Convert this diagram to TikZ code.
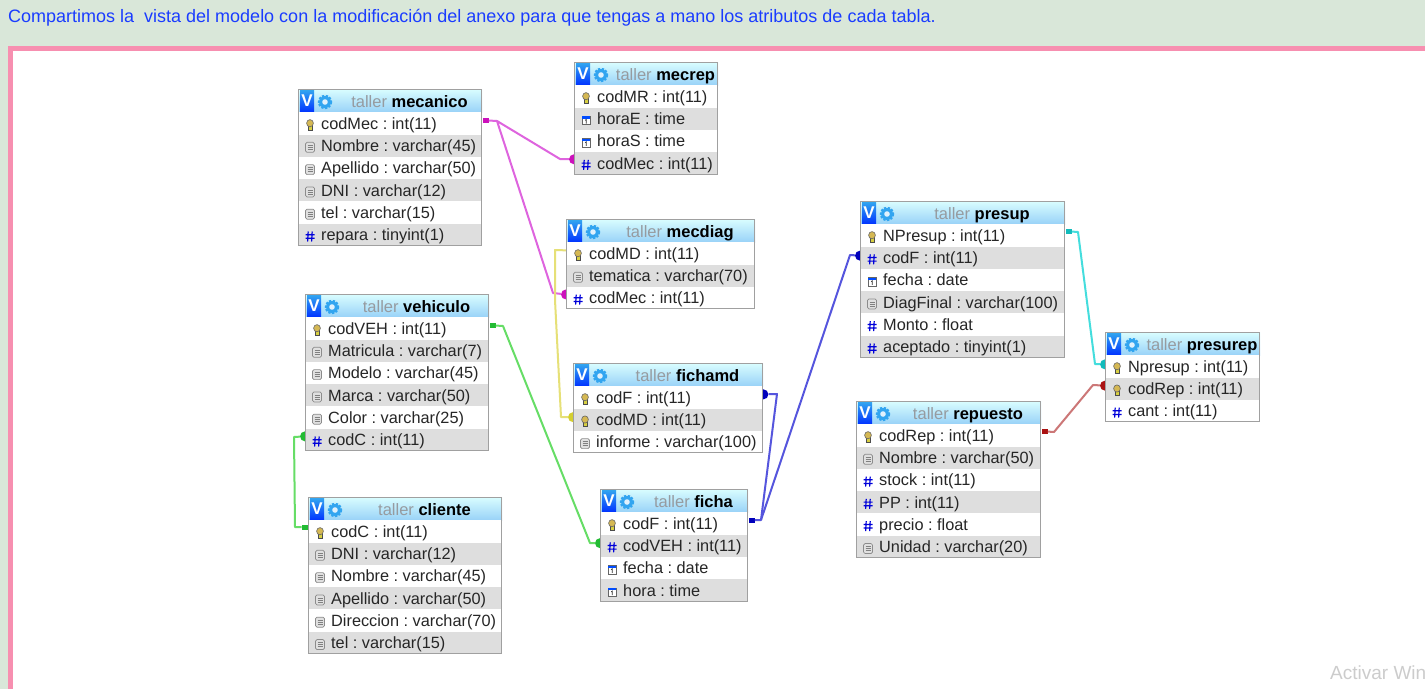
\documentclass[tikz,border=0pt]{standalone}
\usepackage{fontspec}
\setmainfont{Liberation Sans}
\usetikzlibrary{backgrounds}
\definecolor{PageGreen}{RGB}{217,231,217}
\definecolor{PagePink}{RGB}{247,143,176}
\definecolor{NoteBlue}{RGB}{26,60,255}
\definecolor{RowGrey}{RGB}{222,222,222}
\definecolor{FrameGrey}{RGB}{160,160,160}
\definecolor{TitleGrey}{RGB}{150,155,160}
\definecolor{GearBlue}{RGB}{50,165,240}
\definecolor{MagLine}{RGB}{222,100,222}
\definecolor{MagTip}{RGB}{204,17,187}
\definecolor{YelLine}{RGB}{230,224,119}
\definecolor{YelTip}{RGB}{212,207,48}
\definecolor{GrnLine}{RGB}{102,221,102}
\definecolor{GrnTip}{RGB}{34,187,51}
\definecolor{BluLine}{RGB}{85,85,221}
\definecolor{BluTip}{RGB}{0,0,187}
\definecolor{CyaLine}{RGB}{68,221,221}
\definecolor{CyaTip}{RGB}{17,187,187}
\definecolor{RedLine}{RGB}{204,119,119}
\definecolor{RedTip}{RGB}{170,17,17}
% one table: id, x, y, width, title, number of rows, rows
\newcommand{\erdtable}[7]{
    \node[headbar,minimum width=#4pt] (#1) at (#2,#3) {};
    \node[vbox] (#1-v) at (#2+9,#3+12) {V};
    \pic at (#2+27,#3+13) {gearicon};
    \node[headtext] (#1-title) at ({#2+39+(#4-39)/2},#3+18) {\textcolor{TitleGrey}{taller} \textbf{#5}};
    \foreach \k/\txt [count=\n] in {#7} {
        \ifodd\n\def\rowfill{white}\else\def\rowfill{RowGrey}\fi
        \node[rowbar,fill=\rowfill,minimum width=#4pt] (#1-\n) at (#2,{#3+23+(\n-1)*22.3}) {};
        \node[rowtext] (#1-\n-t) at (#2+23,{#3+23+(\n-1)*22.3+17.3}) {\txt};
        \csname icon\k\endcsname{#2+12,{#3+23+(\n-1)*22.3+13}}
    }
    \draw[tableframe] (#2+0.5,#3+0.5) rectangle ({#2+#4-0.5},{#3+23+#6*22.3});
}
\newcommand{\iconk}[1]{\pic at (#1) {keyicon};}
\newcommand{\icond}[1]{\pic at (#1) {docicon};}
\newcommand{\iconh}[1]{\pic at (#1) {hashicon};}
\newcommand{\iconc}[1]{\pic at (#1) {calicon};}
\begin{document}
\frenchspacing
\begin{tikzpicture}[
    x=1pt,y=-1pt,
    headbar/.style={rectangle,anchor=north west,minimum height=23pt,inner sep=0pt,top color=blue!5!cyan!15,bottom color=GearBlue!50},
    vbox/.style={rectangle,minimum width=14pt,minimum height=22pt,inner sep=0pt,top color=GearBlue,bottom color=blue!80!cyan,text=white,font=\fontsize{17}{17}\selectfont\bfseries},
    headtext/.style={anchor=base,inner sep=0pt,font=\fontsize{16.5}{18}\selectfont},
    rowbar/.style={rectangle,anchor=north west,minimum height=22.3pt,inner sep=0pt},
    rowtext/.style={anchor=base west,inner sep=0pt,text=black!85,font=\fontsize{16.3}{18}\selectfont},
    tableframe/.style={FrameGrey,line width=0.9pt},
    rel/.style={#1,line width=2pt,line join=round},
    tipdot/.style={circle,fill=#1,minimum size=10pt,inner sep=0pt},
    tipstub/.style={rectangle,fill=#1,minimum width=6pt,minimum height=4.5pt,inner sep=0pt,anchor=west},
    keyicon/.pic={
        \fill[olive!50!yellow!70,draw=black!70,line width=0.6pt] (-2.2,0) rectangle (2.2,5.2);
        \fill[olive!60!orange!60,draw=black!60,line width=0.6pt] (0,-1.8) ellipse (3.4 and 3.6);
    },
    docicon/.pic={
        \draw[black!45,fill=black!12,rounded corners=1.5pt,line width=0.7pt] (-4.5,-5) rectangle (4.5,5);
        \foreach \l in {-2,0,2} { \draw[black!50,line width=0.6pt] (-2.5,\l) -- (2.5,\l); }
    },
    hashicon/.pic={
        \draw[blue!85!black,line width=1.2pt] (-1.8,-5) -- (-2.4,5) (2.2,-5) -- (1.6,5) (-4.5,-1.8) -- (4.5,-1.8) (-4.5,1.8) -- (4.5,1.8);
    },
    calicon/.pic={
        \draw[black!60,fill=white,line width=0.7pt] (-4,-4) rectangle (4,4.5);
        \fill[blue!70!cyan] (-4,-4) rectangle (4,-1.8);
        \draw[black!80,line width=0.8pt] (-0.8,0) -- (0.3,-0.8) -- (0.3,3.2);
    },
    gearicon/.pic={
        \draw[GearBlue,line width=2.4pt,dash pattern=on 2.2pt off 1.4pt] (0,0) circle (6);
        \fill[GearBlue] (0,0) circle (6);
        \fill[white!85!GearBlue] (0,0) circle (2.8);
    }
]
    \useasboundingbox (0,0) rectangle (1425,689);
    % Page
    \begin{pgfonlayer}{background}
        \fill[PageGreen] (0,0) rectangle (1425,689);
        \fill[PagePink] (8,46) rectangle (1425,689);
        \fill[white] (13,51) rectangle (1425,689);
    \end{pgfonlayer}
    \node[anchor=base west,inner sep=0pt,text=NoteBlue,font=\fontsize{18}{20}\selectfont] (note) at (8,22) {Compartimos la\ \ vista del modelo con la modificación del anexo para que tengas a mano los atributos de cada tabla.};
    \node[anchor=base west,inner sep=0pt,text=black!20,font=\fontsize{19}{20}\selectfont] (activar) at (1330,679) {Activar Win};
    % Tables
    \erdtable{mecanico}{298}{89}{184}{mecanico}{6}{k/codMec : int(11),d/Nombre : varchar(45),d/Apellido : varchar(50),d/DNI : varchar(12),d/tel : varchar(15),h/repara : tinyint(1)}
    \erdtable{mecrep}{574}{62}{144}{mecrep}{4}{k/codMR : int(11),c/horaE : time,c/horaS : time,h/codMec : int(11)}
    \erdtable{mecdiag}{566}{219}{189}{mecdiag}{3}{k/codMD : int(11),d/tematica : varchar(70),h/codMec : int(11)}
    \erdtable{vehiculo}{305}{294}{184}{vehiculo}{6}{k/codVEH : int(11),d/Matricula : varchar(7),d/Modelo : varchar(45),d/Marca : varchar(50),d/Color : varchar(25),h/codC : int(11)}
    \erdtable{cliente}{308}{497}{194}{cliente}{6}{k/codC : int(11),d/DNI : varchar(12),d/Nombre : varchar(45),d/Apellido : varchar(50),d/Direccion : varchar(70),d/tel : varchar(15)}
    \erdtable{fichamd}{573}{363}{190}{fichamd}{3}{k/codF : int(11),k/codMD : int(11),d/informe : varchar(100)}
    \erdtable{ficha}{600}{489}{148}{ficha}{4}{k/codF : int(11),h/codVEH : int(11),c/fecha : date,c/hora : time}
    \erdtable{presup}{860}{201}{205}{presup}{6}{k/NPresup : int(11),h/codF : int(11),c/fecha : date,d/DiagFinal : varchar(100),h/Monto : float,h/aceptado : tinyint(1)}
    \erdtable{repuesto}{856}{401}{185}{repuesto}{6}{k/codRep : int(11),d/Nombre : varchar(50),h/stock : int(11),h/PP : int(11),h/precio : float,d/Unidad : varchar(20)}
    \erdtable{presurep}{1105}{332}{155}{presurep}{3}{k/Npresup : int(11),k/codRep : int(11),h/cant : int(11)}
    % Relations, behind the tables
    \begin{pgfonlayer}{background}
        % mecanico to mecrep and mecdiag
        \node[tipstub=MagTip] (mecanicoStub) at ([yshift=3pt]mecanico-1.east) {};
        \node[tipdot=MagTip] (mecrepDot) at ([yshift=4pt]mecrep-4.west) {};
        \node[tipdot=MagTip] (mecdiagDot) at ([yshift=3.5pt]mecdiag-3.west) {};
        \coordinate (mecFork) at (497,121);
        \draw[rel=MagLine] (mecanicoStub) -- (mecFork) -- (560,159) -- (mecrepDot);
        \draw[rel=MagLine] (mecFork) -- (553,293) -- (mecdiagDot);
        % mecdiag to fichamd
        \node[tipdot=YelTip] (fichamdDot) at ([yshift=2.5pt]fichamd-2.west) {};
        \draw[rel=YelLine] ([yshift=3pt]mecdiag-1.west) -- (555,250) -- (555,300) -- (561,417) -- (fichamdDot);
        % vehiculo to ficha and cliente
        \node[tipstub=GrnTip] (vehiculoStub) at ([yshift=3pt]vehiculo-1.east) {};
        \node[tipdot=GrnTip] (fichaDot) at ([yshift=2.5pt]ficha-2.west) {};
        \draw[rel=GrnLine] (vehiculoStub) -- (503,326) -- (590,543) -- (fichaDot);
        \node[tipdot=GrnTip] (vehiculoDot) at ([yshift=3.5pt]vehiculo-6.west) {};
        \node[tipstub=GrnTip,anchor=east] (clienteStub) at ([yshift=4pt]cliente-1.west) {};
        \draw[rel=GrnLine] (vehiculoDot) -- (294,437) -- (295,527) -- (clienteStub);
        % ficha to fichamd and presup
        \node[tipstub=BluTip] (fichaStub) at ([yshift=3pt]ficha-1.east) {};
        \node[tipdot=BluTip] (fichamdBlue) at ([yshift=3pt]fichamd-1.east) {};
        \node[tipdot=BluTip] (presupDot) at ([yshift=2pt]presup-2.west) {};
        \coordinate (fichaFork) at (761,520);
        \draw[rel=BluLine] (fichaStub) -- (fichaFork) -- (777,394) -- (fichamdBlue);
        \draw[rel=BluLine] (fichaFork) -- (850,255) -- (presupDot);
        % presup and repuesto to presurep
        \node[tipstub=CyaTip] (presupStub) at ([yshift=4pt]presup-1.east) {};
        \node[tipdot=CyaTip] (presurepDot) at ([yshift=2pt]presurep-1.west) {};
        \draw[rel=CyaLine] (presupStub) -- (1078,232) -- (1095,364) -- (presurepDot);
        \node[tipstub=RedTip] (repuestoStub) at ([yshift=4pt]repuesto-1.east) {};
        \node[tipdot=RedTip] (presurepRed) at ([yshift=3pt]presurep-2.west) {};
        \draw[rel=RedLine] (repuestoStub) -- (1054,432) -- (1093,385) -- (presurepRed);
    \end{pgfonlayer}
\end{tikzpicture}
\end{document}
